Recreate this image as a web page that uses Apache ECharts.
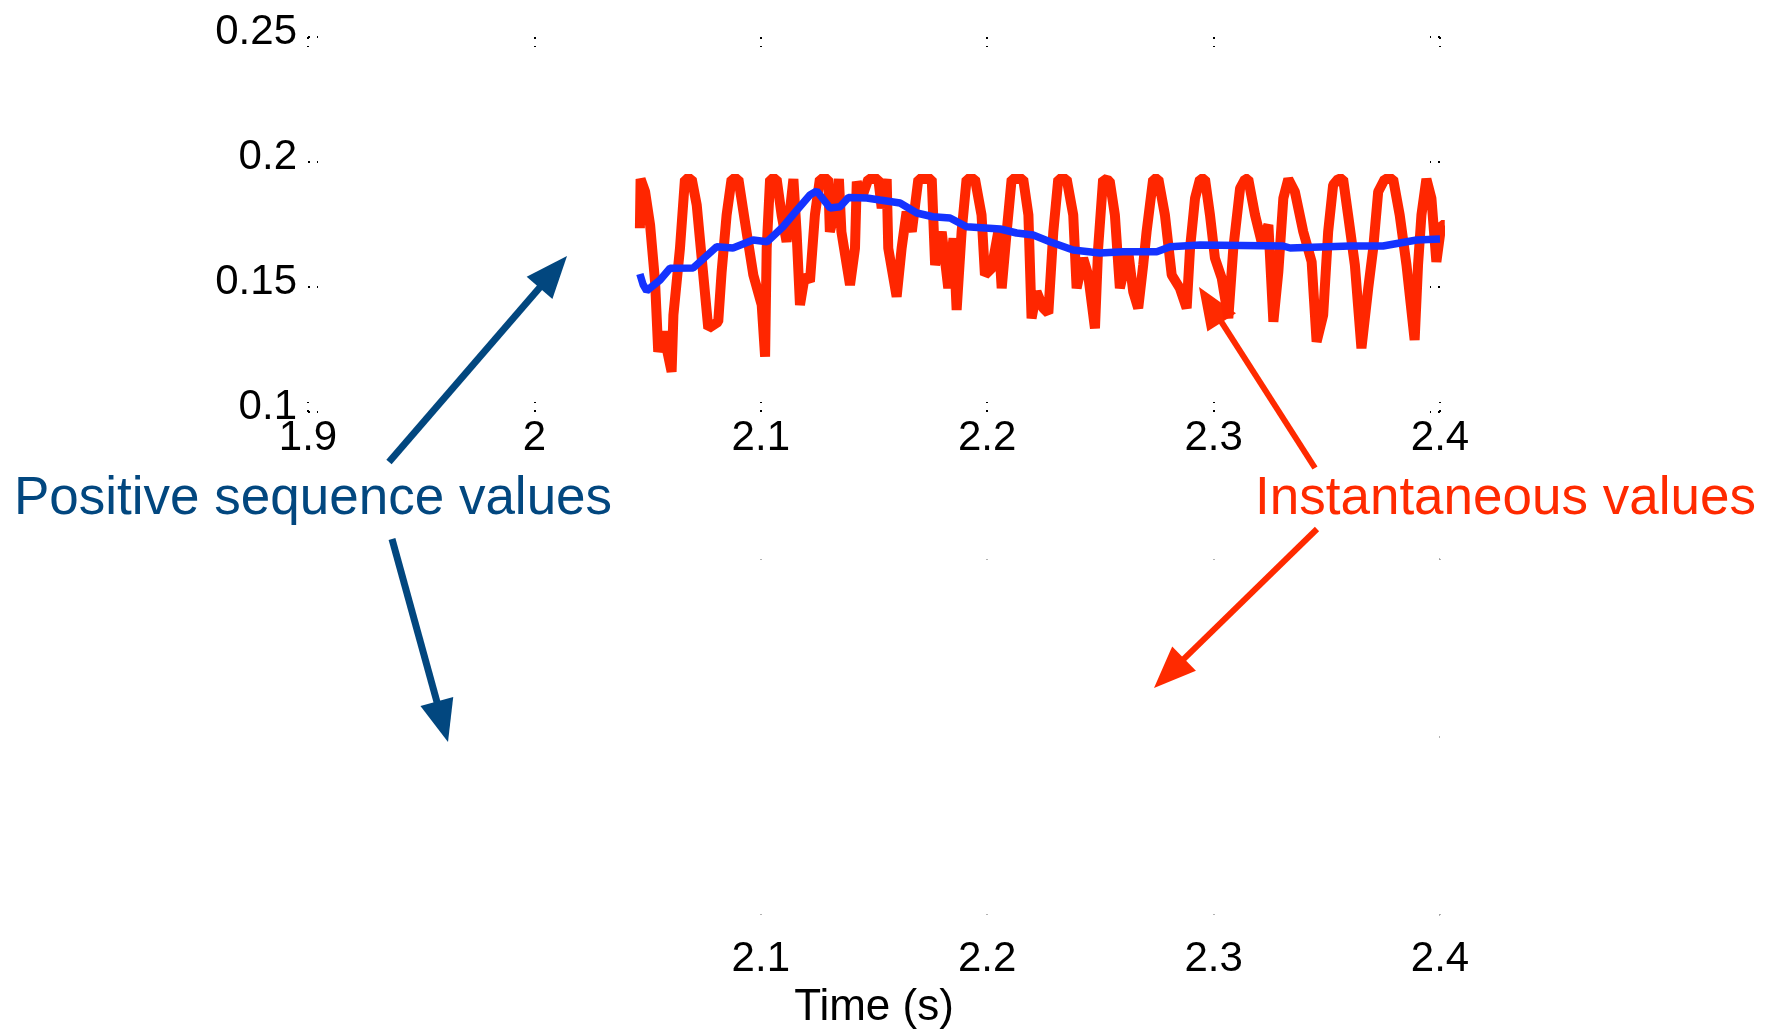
<!DOCTYPE html>
<html>
<head>
<meta charset="utf-8">
<script src="https://cdn.jsdelivr.net/npm/echarts@6/dist/echarts.min.js"></script>
<style>
  html, body { margin: 0; padding: 0; background: #fff; }
  #main { width: 1777px; height: 1031px; }
</style>
</head>
<body>
<div id="main"></div>
<script>
// time axis ticks (s)
var xTicks = [1.9, 2.0, 2.1, 2.2, 2.3, 2.4];
var xTicksLower = [2.1, 2.2, 2.3, 2.4];

// instantaneous values (red)
var tInst = [2.0466, 2.0469, 2.0489, 2.0511, 2.0533, 2.0547, 2.0569, 2.0606, 2.0614, 2.0643,
  2.0665, 2.0695, 2.0717, 2.0739, 2.0768, 2.0812, 2.0827, 2.0849, 2.0871, 2.0901,
  2.0930, 2.0967, 2.1004, 2.1019, 2.1026, 2.1041, 2.1070, 2.1092, 2.1114, 2.1144,
  2.1158, 2.1173, 2.1195, 2.1217, 2.1239, 2.1261, 2.1298, 2.1305, 2.1335, 2.1345,
  2.1356, 2.1394, 2.1416, 2.1424, 2.1446, 2.1475, 2.1519, 2.1534, 2.1556, 2.1563,
  2.1600, 2.1622, 2.1644, 2.1667, 2.1696, 2.1755, 2.1770, 2.1799, 2.1828, 2.1851,
  2.1865, 2.1887, 2.1909, 2.1946, 2.1975, 2.1990, 2.2020, 2.2049, 2.2064, 2.2086,
  2.2108, 2.2159, 2.2182, 2.2196, 2.2218, 2.2248, 2.2270, 2.2292, 2.2314, 2.2351,
  2.2380, 2.2395, 2.2424, 2.2446, 2.2476, 2.2490, 2.2512, 2.2541, 2.2564, 2.2586,
  2.2623, 2.2645, 2.2667, 2.2689, 2.2704, 2.2733, 2.2756, 2.2785, 2.2815, 2.2851,
  2.2881, 2.2896, 2.2918, 2.2940, 2.2962, 2.2984, 2.3006, 2.3036, 2.3065, 2.3087,
  2.3117, 2.3139, 2.3153, 2.3183, 2.3212, 2.3242, 2.3264, 2.3286, 2.3308, 2.3330,
  2.3359, 2.3396, 2.3433, 2.3455, 2.3484, 2.3506, 2.3528, 2.3550, 2.3572, 2.3594,
  2.3624, 2.3653, 2.3683, 2.3705, 2.3727, 2.3756, 2.3793, 2.3822, 2.3852, 2.3888,
  2.3903, 2.3918, 2.3940, 2.3962, 2.3984, 2.4006, 2.4021];
var vInst = [0.1735, 0.1932, 0.1881, 0.1748, 0.1521, 0.1241, 0.1321, 0.1161, 0.1388, 0.1655,
  0.1932, 0.1932, 0.1828, 0.1615, 0.1335, 0.1361, 0.1561, 0.1788, 0.1932, 0.1932,
  0.1761, 0.1548, 0.1428, 0.1221, 0.1655, 0.1932, 0.1932, 0.1788, 0.1681, 0.1932,
  0.1721, 0.1428, 0.1548, 0.1521, 0.1788, 0.1932, 0.1932, 0.1721, 0.1828, 0.1932,
  0.1721, 0.1508, 0.1655, 0.1921, 0.1855, 0.1932, 0.1932, 0.1815, 0.1932, 0.1655,
  0.1461, 0.1655, 0.1801, 0.1721, 0.1932, 0.1932, 0.1588, 0.1721, 0.1495, 0.1695,
  0.1408, 0.1721, 0.1932, 0.1932, 0.1788, 0.1548, 0.1575, 0.1721, 0.1495, 0.1721,
  0.1932, 0.1932, 0.1788, 0.1375, 0.1481, 0.1415, 0.1395, 0.1721, 0.1932, 0.1932,
  0.1788, 0.1495, 0.1615, 0.1548, 0.1335, 0.1655, 0.1932, 0.1925, 0.1788, 0.1495,
  0.1641, 0.1481, 0.1415, 0.1588, 0.1721, 0.1932, 0.1932, 0.1788, 0.1548, 0.1495,
  0.1415, 0.1655, 0.1855, 0.1932, 0.1932, 0.1788, 0.1615, 0.1535, 0.1375, 0.1655,
  0.1895, 0.1932, 0.1932, 0.1788, 0.1681, 0.1748, 0.1361, 0.1561, 0.1855, 0.1932,
  0.1881, 0.1721, 0.1601, 0.1281, 0.1388, 0.1721, 0.1908, 0.1932, 0.1932, 0.1788,
  0.1588, 0.1255, 0.1495, 0.1655, 0.1881, 0.1932, 0.1932, 0.1788, 0.1588, 0.1288,
  0.1588, 0.1788, 0.1932, 0.1855, 0.1601, 0.1748, 0.1748];

// positive sequence values (blue)
var tPos = [2.0466, 2.0480, 2.0496, 2.0555, 2.0599, 2.0701, 2.0805, 2.0877, 2.0966, 2.1028,
  2.1098, 2.1160, 2.1217, 2.1247, 2.1306, 2.1350, 2.1387, 2.1468, 2.1526, 2.1615,
  2.1689, 2.1760, 2.1836, 2.1909, 2.2057, 2.2130, 2.2203, 2.2277, 2.2379, 2.2498,
  2.2600, 2.2749, 2.2808, 2.2940, 2.3307, 2.3338, 2.3603, 2.3748, 2.3897, 2.4000];
var vPos = [0.1552, 0.1510, 0.1485, 0.1528, 0.1575, 0.1576, 0.1661, 0.1656, 0.1688, 0.1681,
  0.1741, 0.1808, 0.1868, 0.1884, 0.1816, 0.1821, 0.1858, 0.1856, 0.1848, 0.1836,
  0.1796, 0.1781, 0.1776, 0.1741, 0.1732, 0.1716, 0.1708, 0.1681, 0.1648, 0.1636,
  0.1641, 0.1641, 0.1661, 0.1668, 0.1664, 0.1656, 0.1664, 0.1664, 0.1688, 0.1692];

function zip(a, b) {
  var out = [];
  for (var i = 0; i < a.length; i++) out.push([a[i], b[i]]);
  return out;
}

var FONT = 'Liberation Sans';
var tickDots = { type: [2, 7], width: 2, color: '#000' };
var tickDotsLight = { type: [1, 7], width: 1.5, color: '#999' };

function arrow(x0, y0, x1, y1, color, w) {
  var dx = x1 - x0, dy = y1 - y0;
  var len = Math.sqrt(dx * dx + dy * dy);
  var ux = dx / len, uy = dy / len;
  var hl = 42, hw = 17;
  var bx = x1 - ux * hl, by = y1 - uy * hl;
  return [
    { type: 'line', shape: { x1: x0, y1: y0, x2: bx + ux * 2, y2: by + uy * 2 },
      style: { stroke: color, lineWidth: w } },
    { type: 'polygon', shape: { points: [[x1, y1], [bx - uy * hw, by + ux * hw], [bx + uy * hw, by - ux * hw]] },
      style: { fill: color } }
  ];
}

var blueNote = '#02477f';
var redNote = '#ff2a00';

var graphics = []
  .concat(arrow(389, 462, 567, 256, blueNote, 7))
  .concat(arrow(392, 539, 448, 742, blueNote, 7))
  .concat(arrow(1315, 468, 1199, 287, redNote, 6))
  .concat(arrow(1317, 529, 1154, 688, redNote, 6));
graphics.push({ type: 'text', left: 14, top: 473,
  style: { text: 'Positive sequence values', fill: blueNote, font: '53px "' + FONT + '"' } });
graphics.push({ type: 'text', left: 1255, top: 473,
  style: { text: 'Instantaneous values', fill: redNote, font: '53px "' + FONT + '"' } });

var myChart = echarts.init(document.getElementById('main'));

var option = {
  backgroundColor: '#fff',
  animation: false,
  textStyle: { fontFamily: FONT },
  grid: [
    { left: 308, top: 37, width: 1132, height: 375 },
    { left: 308, top: 559, width: 1132, height: 359 }
  ],
  xAxis: [
    { gridIndex: 0, type: 'value', position: 'bottom', min: 1.9, max: 2.4, interval: 0.1,
      axisLine: { show: false }, splitLine: { show: false },
      axisTick: { inside: true, length: 10, lineStyle: tickDots },
      axisLabel: { fontSize: 42, color: '#000', margin: 5 } },
    { gridIndex: 0, type: 'value', position: 'top', min: 1.9, max: 2.4, interval: 0.1,
      axisLine: { show: false }, splitLine: { show: false },
      axisTick: { inside: true, length: 10, lineStyle: tickDots },
      axisLabel: { show: false } },
    { gridIndex: 1, type: 'value', position: 'bottom', min: 1.9, max: 2.4, interval: 0.1,
      axisLine: { show: false }, splitLine: { show: false },
      axisTick: { inside: true, length: 8, lineStyle: tickDotsLight, customValues: xTicksLower },
      axisLabel: { fontSize: 42, color: '#000', margin: 23, customValues: xTicksLower },
      name: 'Time (s)', nameLocation: 'middle', nameGap: 71,
      nameTextStyle: { fontSize: 44, color: '#000' } },
    { gridIndex: 1, type: 'value', position: 'top', min: 1.9, max: 2.4, interval: 0.1,
      axisLine: { show: false }, splitLine: { show: false },
      axisTick: { inside: true, length: 8, lineStyle: tickDotsLight, customValues: xTicksLower },
      axisLabel: { show: false } }
  ],
  yAxis: [
    { gridIndex: 0, type: 'value', position: 'left', min: 0.1, max: 0.25, interval: 0.05,
      axisLine: { show: false }, splitLine: { show: false },
      axisTick: { inside: true, length: 10, lineStyle: tickDots },
      axisLabel: { color: '#000', margin: 11, formatter: '{v|{value}}',
        rich: { v: { fontSize: 42, color: '#000', fontFamily: FONT, padding: [0, 0, 10, 0] } } } },
    { gridIndex: 0, type: 'value', position: 'right', min: 0.1, max: 0.25, interval: 0.05,
      axisLine: { show: false }, splitLine: { show: false },
      axisTick: { inside: true, length: 10, lineStyle: tickDots },
      axisLabel: { show: false } },
    { gridIndex: 1, type: 'value', position: 'right', min: 0, max: 1, interval: 0.5,
      axisLine: { show: false }, splitLine: { show: false },
      axisTick: { inside: true, length: 8, lineStyle: tickDotsLight },
      axisLabel: { show: false } }
  ],
  series: [
    {
      name: 'Instantaneous values',
      type: 'line',
      xAxisIndex: 0, yAxisIndex: 0,
      data: zip(tInst, vInst),
      showSymbol: false,
      clip: false,
      lineStyle: { color: '#ff2600', width: 10, join: 'bevel' }
    },
    {
      name: 'Positive sequence values',
      type: 'line',
      xAxisIndex: 0, yAxisIndex: 0,
      data: zip(tPos, vPos),
      showSymbol: false,
      clip: false,
      lineStyle: { color: '#1433ff', width: 7.5 }
    }
  ],
  graphic: graphics
};

myChart.setOption(option);
</script>
</body>
</html>
